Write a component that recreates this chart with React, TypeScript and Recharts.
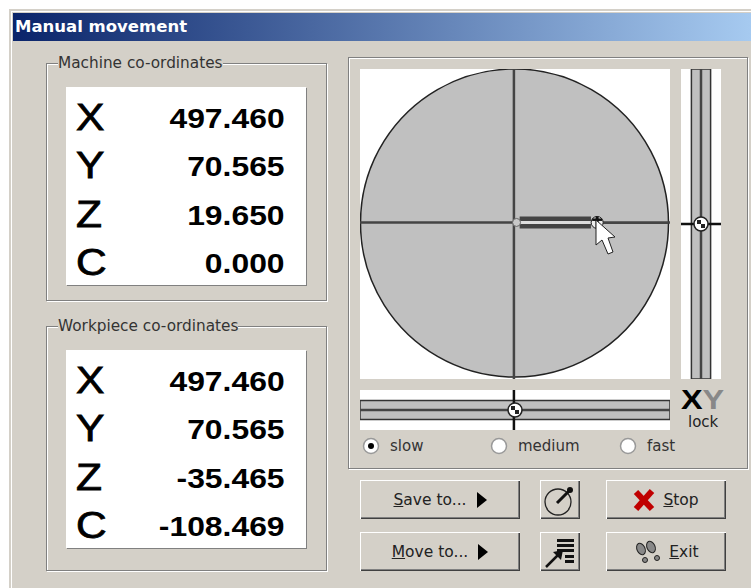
import {
  ComposedChart,
  PieChart,
  Pie,
  Line,
  Scatter,
  XAxis,
  YAxis,
  ReferenceLine,
  ReferenceArea,
} from "recharts";

const AXIS_NAMES = ["X", "Y", "Z", "C"];
const MACHINE_VALUES = ["497.460", "70.565", "19.650", "0.000"];
const WORKPIECE_VALUES = ["497.460", "70.565", "-35.465", "-108.469"];
const SPEEDS = ["slow", "medium", "fast"];
const SPEED_X = [362, 490, 619];

// jog stick, in plate units (-1..1)
const PLATE = [{ name: "range", value: 1 }];
const JOG_X = [0.03, 0.49];
const JOG_Y = [0.01, 0.01];
const HANDLE_X = [0.53];
const HANDLE_Y = [0.01];
const ORIGIN_X = [0.01];
const SLIDER_CENTER = [0];

const jogLine = JOG_X.map((x, i) => ({ x, y: JOG_Y[i] }));
const handlePoint = HANDLE_X.map((x, i) => ({ x, y: HANDLE_Y[i] }));
const originPoint = ORIGIN_X.map((x, i) => ({ x, y: HANDLE_Y[i] }));
const centerPoint = SLIDER_CENTER.map((x) => ({ x, y: x }));

const FACE = "#d4d0c8";
const UI_FONT = "'DejaVu Sans', sans-serif";
const BOLD_FONT = "'Liberation Sans', sans-serif";

function Handle({ cx, cy }: any) {
  return (
    <g>
      <circle cx={cx} cy={cy} r={7} fill="#fff" stroke="#222" strokeWidth={1.5} />
      <rect x={cx - 4} y={cy - 4} width={4} height={4} fill="#222" />
      <rect x={cx} y={cy} width={4} height={4} fill="#222" />
    </g>
  );
}

function OriginMark({ cx, cy }: any) {
  return <circle cx={cx} cy={cy} r={4} fill="#c8c8c8" stroke="#666" strokeWidth={1} />;
}

function StickMark({ cx, cy }: any) {
  return (
    <g>
      <circle cx={cx} cy={cy} r={6} fill="#eee" stroke="#222" strokeWidth={1} />
      <rect x={cx - 5} y={cy - 4} width={10} height={2.5} fill="#111" />
      <rect x={cx - 1.5} y={cy - 6} width={3} height={12} fill="#111" />
    </g>
  );
}

function Readout({ top, title, values }: { top: number; title: string; values: string[] }) {
  return (
    <>
      <div
        style={{
          position: "absolute",
          left: 46,
          top,
          width: 279,
          height: top === 63 ? 236 : 243,
          border: "1px solid #808080",
          boxShadow: "1px 1px 0 #fff, inset 1px 1px 0 #fff",
        }}
      />
      <div
        style={{
          position: "absolute",
          left: 58,
          top: top - 9,
          background: FACE,
          fontSize: 15.3,
          lineHeight: "18px",
          color: "#333",
          fontFamily: UI_FONT,
          whiteSpace: "nowrap",
        }}
      >
        {title}
      </div>
      <div
        style={{
          position: "absolute",
          left: 66,
          top: top + 24,
          width: 240,
          height: 198,
          background: "#fff",
          boxShadow: "1px 1px 0 #808080",
        }}
      >
        {AXIS_NAMES.map((name, i) => (
          <div key={name} style={{ position: "absolute", left: 0, top: 8 + i * 48.3, width: 240, height: 48 }}>
            <span
              style={{
                position: "absolute",
                left: 10,
                top: 0,
                fontFamily: BOLD_FONT,
                fontSize: 37,
                lineHeight: "46px",
                color: "#000",
                WebkitTextStroke: "0.8px #000",
                transform: "scaleX(1.15)",
                transformOrigin: "left center",
              }}
            >
              {name}
            </span>
            <span
              style={{
                position: "absolute",
                right: 21,
                top: 0,
                fontFamily: BOLD_FONT,
                fontWeight: 700,
                fontSize: 27,
                lineHeight: "48px",
                color: "#000",
                whiteSpace: "nowrap",
                transform: "scaleX(1.18)",
                transformOrigin: "right center",
              }}
            >
              {values[i]}
            </span>
          </div>
        ))}
      </div>
    </>
  );
}

function Button({ left, top, width, gap = 8, children }: any) {
  return (
    <div
      style={{
        position: "absolute",
        left,
        top,
        width,
        height: 39,
        background: FACE,
        boxShadow: "inset 1px 1px 0 #fff, inset -1px -1px 0 #404040, inset -2px -2px 0 #808080",
        display: "flex",
        alignItems: "center",
        justifyContent: "center",
        gap,
        fontFamily: UI_FONT,
        fontSize: 15.5,
        color: "#222",
      }}
    >
      {children}
    </div>
  );
}

function Arrow() {
  return (
    <svg width={10} height={16}>
      <polygon points="0,0 10,8 0,16" fill="#000" />
    </svg>
  );
}

export default function App() {
  return (
    <div
      style={{
        position: "absolute",
        left: 0,
        top: 0,
        width: 751,
        height: 588,
        background: "#fff",
        overflow: "hidden",
        fontFamily: UI_FONT,
      }}
    >
      <div style={{ position: "absolute", left: 9, top: 9, width: 742, height: 579, background: FACE }} />
      <div style={{ position: "absolute", left: 11, top: 11, width: 740, height: 1, background: "#fff" }} />
      <div style={{ position: "absolute", left: 11, top: 11, width: 1, height: 577, background: "#fff" }} />
      <div
        style={{
          position: "absolute",
          left: 13,
          top: 13,
          width: 738,
          height: 28,
          background: "linear-gradient(to right, #0a246a, #a6caf0)",
          color: "#fff",
          fontWeight: 700,
          fontSize: 16.5,
          lineHeight: "28px",
          paddingLeft: 2,
          boxSizing: "border-box",
        }}
      >
        Manual movement
      </div>

      <Readout top={63} title="Machine co-ordinates" values={MACHINE_VALUES} />
      <Readout top={326} title="Workpiece co-ordinates" values={WORKPIECE_VALUES} />

      <div
        style={{
          position: "absolute",
          left: 348,
          top: 57,
          width: 398,
          height: 410,
          border: "1px solid #808080",
          boxShadow: "1px 1px 0 #fff, inset 1px 1px 0 #fff",
        }}
      />

      {/* jog plate */}
      <div style={{ position: "absolute", left: 360, top: 69, width: 310, height: 310, background: "#fff" }} />
      <div style={{ position: "absolute", left: 360, top: 69 }}>
        <PieChart width={310} height={310} margin={{ top: 0, right: 0, bottom: 0, left: 0 }}>
          <Pie
            data={PLATE}
            dataKey="value"
            cx={154.5}
            cy={154}
            innerRadius={0}
            outerRadius={154}
            startAngle={0}
            endAngle={360}
            paddingAngle={0}
            fill="#c0c0c0"
            stroke="#222"
            strokeWidth={1.5}
            isAnimationActive={false}
          />
        </PieChart>
      </div>
      <div style={{ position: "absolute", left: 360, top: 69 }}>
        <ComposedChart width={310} height={310} data={jogLine} margin={{ top: 0, right: 0, bottom: 0, left: 0 }}>
          <XAxis dataKey="x" type="number" domain={[-1, 1]} hide />
          <YAxis type="number" domain={[-1, 1]} hide />
          <ReferenceLine x={-0.007} stroke="#444" strokeWidth={2.5} />
          <ReferenceLine y={0.01} stroke="#444" strokeWidth={2.5} />
          <Line dataKey="y" stroke="#444" strokeWidth={12} dot={false} isAnimationActive={false} />
          <Line dataKey="y" stroke="#ddd" strokeWidth={3} dot={false} isAnimationActive={false} />
          <Scatter data={originPoint} dataKey="y" shape={<OriginMark />} isAnimationActive={false} />
          <Scatter data={handlePoint} dataKey="y" shape={<StickMark />} isAnimationActive={false} />
        </ComposedChart>
      </div>

      {/* Y slider */}
      <div style={{ position: "absolute", left: 681, top: 69 }}>
        <ComposedChart width={40} height={310} data={centerPoint} margin={{ top: 0, right: 0, bottom: 0, left: 0 }} style={{ background: "#fff" }}>
          <XAxis dataKey="x" type="number" domain={[-1, 1]} hide />
          <YAxis type="number" domain={[-1, 1]} hide />
          <ReferenceArea x1={-0.48} x2={0.48} y1={-1} y2={1} fill="#c0c0c0" fillOpacity={1} stroke="#333" strokeWidth={1.5} />
          <ReferenceLine x={0} stroke="#444" strokeWidth={2.5} />
          <ReferenceLine y={0} stroke="#111" strokeWidth={2.5} />
          <Scatter dataKey="y" shape={<Handle />} isAnimationActive={false} />
        </ComposedChart>
      </div>

      {/* X slider */}
      <div style={{ position: "absolute", left: 360, top: 390 }}>
        <ComposedChart width={310} height={40} data={centerPoint} margin={{ top: 0, right: 0, bottom: 0, left: 0 }} style={{ background: "#fff" }}>
          <XAxis dataKey="x" type="number" domain={[-1, 1]} hide />
          <YAxis type="number" domain={[-1, 1]} hide />
          <ReferenceArea x1={-1} x2={1} y1={-0.48} y2={0.48} fill="#c0c0c0" fillOpacity={1} stroke="#333" strokeWidth={1.5} />
          <ReferenceLine y={0} stroke="#444" strokeWidth={2.5} />
          <ReferenceLine x={-0.007} stroke="#111" strokeWidth={2.5} />
          <Scatter dataKey="y" shape={<Handle />} isAnimationActive={false} />
        </ComposedChart>
      </div>

      {/* cursor */}
      <svg style={{ position: "absolute", left: 590, top: 215 }} width={30} height={45}>
        <polygon
          points="6,5 6,30 12,25 18,39 23,37 18,23 25,22"
          fill="#fff"
          stroke="#222"
          strokeWidth={1}
        />
      </svg>

      {/* XY lock */}
      <div
        style={{
          position: "absolute",
          left: 681,
          top: 386,
          fontFamily: BOLD_FONT,
          fontWeight: 700,
          fontSize: 27,
          lineHeight: "28px",
          whiteSpace: "nowrap",
          transform: "scaleX(1.2)",
          transformOrigin: "left center",
        }}
      >
        <span style={{ color: "#000" }}>X</span>
        <span style={{ color: "#888" }}>Y</span>
      </div>
      <div style={{ position: "absolute", left: 688, top: 414, fontSize: 15, lineHeight: "16px", color: "#222" }}>lock</div>

      {/* speed radios */}
      {SPEEDS.map((label, i) => (
        <div key={label} style={{ position: "absolute", left: SPEED_X[i], top: 437, height: 18 }}>
          <svg width={18} height={18} style={{ position: "absolute", left: 0, top: 0 }}>
            <circle cx={9} cy={9} r={7.5} fill="#fff" stroke="#999" strokeWidth={1.5} />
            {i === 0 && <circle cx={9} cy={9} r={3} fill="#000" />}
          </svg>
          <span style={{ position: "absolute", left: 28, top: 0, fontSize: 15, lineHeight: "18px", color: "#333" }}>{label}</span>
        </div>
      ))}

      <Button left={360} top={480} width={160} gap={10}>
        <span><u>S</u>ave to...</span>
        <Arrow />
      </Button>
      <Button left={360} top={532} width={160} gap={10}>
        <span><u>M</u>ove to...</span>
        <Arrow />
      </Button>
      <Button left={540} top={480} width={40}>
        <svg width={32} height={32}>
          <circle cx={14} cy={18} r={13} fill="none" stroke="#222" strokeWidth={1.3} />
          <line x1={13} y1={19} x2={26} y2={6} stroke="#111" strokeWidth={3} />
          <circle cx={26} cy={6} r={3} fill="#111" />
        </svg>
      </Button>
      <Button left={540} top={532} width={40}>
        <svg width={34} height={34}>
          <rect x={14} y={4} width={17} height={3} fill="#111" />
          <rect x={14} y={9} width={17} height={3} fill="#111" />
          <rect x={14} y={14} width={17} height={3} fill="#111" />
          <rect x={22} y={20} width={9} height={3} fill="#111" />
          <rect x={22} y={25} width={9} height={3} fill="#111" />
          <line x1={3} y1={32} x2={16} y2={19} stroke="#111" strokeWidth={2.5} />
          <polygon points="20,15 10,17 18,25" fill="#111" />
        </svg>
      </Button>
      <Button left={606} top={480} width={120}>
        <svg width={22} height={24}>
          <line x1={3} y1={21} x2={19} y2={3} stroke="#c00000" strokeWidth={6} />
          <line x1={3} y1={4} x2={19} y2={21} stroke="#c00000" strokeWidth={6} />
        </svg>
        <span><u>S</u>top</span>
      </Button>
      <Button left={606} top={532} width={120}>
        <svg width={28} height={24}>
          <ellipse cx={8} cy={9} rx={4} ry={6} transform="rotate(-25 8 9)" fill="#888" stroke="#222" />
          <ellipse cx={18} cy={7} rx={4} ry={6} transform="rotate(-25 18 7)" fill="#888" stroke="#222" />
          <circle cx={12} cy={20} r={2.5} fill="#888" stroke="#222" />
          <circle cx={24} cy={18} r={2.5} fill="#888" stroke="#222" />
        </svg>
        <span><u>E</u>xit</span>
      </Button>
    </div>
  );
}
